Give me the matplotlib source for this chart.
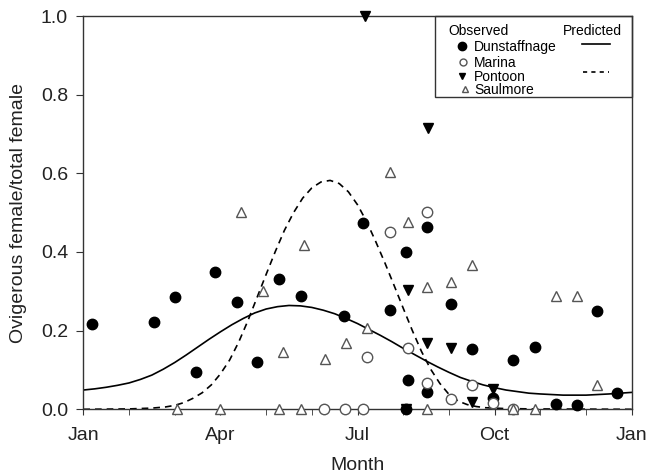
import numpy as np
import matplotlib.pyplot as plt
from matplotlib.patches import Rectangle

plt.rcParams['font.family'] = ['Liberation Sans', 'DejaVu Sans']

# x = month of year (0 = 1 Jan, 12 = next 1 Jan), y = ovigerous/total female
dun_month = [0.18, 1.55, 2.0, 2.46, 2.89, 3.36, 3.79, 4.29, 4.76, 5.70, 6.13, 6.70,
             7.06, 7.51, 7.06, 7.11, 7.53, 8.05, 8.51, 8.96, 9.41, 9.88, 10.34,
             10.80, 11.25, 11.68]
dun_prop = [0.216, 0.222, 0.286, 0.095, 0.349, 0.272, 0.119, 0.332, 0.289, 0.238,
            0.474, 0.252, 0.399, 0.463, 0.0, 0.074, 0.045, 0.269, 0.153, 0.028,
            0.125, 0.159, 0.013, 0.010, 0.249, 0.041]

mar_month = [5.27, 5.72, 6.13, 6.20, 6.70, 7.11, 7.51, 7.53, 8.05, 8.51, 8.96, 9.40]
mar_prop = [0.0, 0.0, 0.0, 0.132, 0.450, 0.157, 0.501, 0.066, 0.027, 0.062, 0.015, 0.0]

pon_month = [6.16, 7.54, 7.11, 7.53, 8.04, 8.51, 8.96, 7.06]
pon_prop = [1.0, 0.715, 0.303, 0.169, 0.155, 0.018, 0.051, 0.0]

sau_month = [2.06, 2.99, 3.44, 3.94, 4.28, 4.36, 4.76, 4.83, 5.29, 5.74, 6.20, 6.70,
             7.11, 7.53, 7.53, 8.04, 8.51, 9.40, 9.88, 10.34, 10.80, 11.25]
sau_prop = [0.0, 0.0, 0.502, 0.302, 0.0, 0.146, 0.0, 0.419, 0.128, 0.168, 0.206, 0.604,
            0.475, 0.312, 0.0, 0.323, 0.366, 0.0, 0.0, 0.288, 0.288, 0.061]

# predicted curves
pred_solid_month = [0, 0.25, 0.5, 0.75, 1.0, 1.25, 1.5, 1.75, 2.0, 2.25, 2.5, 2.75,
                    3.0, 3.25, 3.5, 3.75, 4.0, 4.25, 4.5, 4.75, 5.0, 5.25, 5.5, 5.75,
                    6.0, 6.25, 6.5, 6.75, 7.0, 7.25, 7.5, 7.75, 8.0, 8.25, 8.5, 8.75,
                    9.0, 9.25, 9.5, 9.75, 10.0, 10.5, 11.0, 11.5, 12.0]
pred_solid = [0.049, 0.052, 0.056, 0.061, 0.067, 0.076, 0.087, 0.102, 0.119, 0.138,
              0.158, 0.178, 0.197, 0.215, 0.231, 0.245, 0.255, 0.261, 0.264, 0.263,
              0.259, 0.252, 0.243, 0.231, 0.218, 0.203, 0.188, 0.172, 0.155, 0.139,
              0.123, 0.108, 0.094, 0.081, 0.071, 0.062, 0.055, 0.049, 0.045, 0.041,
              0.039, 0.036, 0.036, 0.039, 0.043]

pred_dash_month = [0, 1.0, 1.5, 1.8, 2.0, 2.2, 2.4, 2.6, 2.8, 3.0, 3.2, 3.4, 3.6, 3.8,
                   4.0, 4.2, 4.4, 4.6, 4.8, 5.0, 5.2, 5.4, 5.6, 5.8, 6.0, 6.2, 6.4,
                   6.6, 6.8, 7.0, 7.2, 7.4, 7.6, 7.8, 8.0, 8.2, 8.4, 8.6, 8.8, 9.2,
                   9.8, 12.0]
pred_dash = [0.0, 0.001, 0.003, 0.006, 0.010, 0.017, 0.028, 0.042, 0.062, 0.090, 0.125,
             0.171, 0.225, 0.284, 0.343, 0.401, 0.455, 0.500, 0.537, 0.563, 0.578,
             0.582, 0.574, 0.553, 0.520, 0.477, 0.426, 0.372, 0.315, 0.257, 0.200,
             0.147, 0.102, 0.066, 0.038, 0.021, 0.012, 0.007, 0.004, 0.002, 0.001, 0.0]

month_ticks = [0, 3, 6, 9, 12]
month_labels = ['Jan', 'Apr', 'Jul', 'Oct', 'Jan']

fig = plt.figure(figsize=(6.47, 4.74), dpi=100)
ax = fig.add_axes([0.1288, 0.1365, 0.8476, 0.8297])

ax.plot(pred_solid_month, pred_solid, color='black', lw=1.2, zorder=2)
ax.plot(pred_dash_month, pred_dash, color='black', lw=1.2, ls=(0, (4, 3)), zorder=2)

ms = 7.5
gray = '#555555'
ax.plot(dun_month, dun_prop, 'o', ms=ms, color='black', ls='none', clip_on=False, zorder=3)
ax.plot(mar_month, mar_prop, 'o', ms=ms, mfc='white', mec=gray, mew=1.0, ls='none',
        clip_on=False, zorder=3)
ax.plot(pon_month, pon_prop, 'v', ms=ms, color='black', ls='none', clip_on=False, zorder=3)
ax.plot(sau_month, sau_prop, '^', ms=ms, mfc='white', mec=gray, mew=1.0, ls='none',
        clip_on=False, zorder=3)

ax.set_xlim(0, 12)
ax.set_ylim(0, 1.0)
ax.set_xticks(month_ticks)
ax.set_xticklabels(month_labels)
ax.set_xticks(np.arange(0, 13), minor=True)
ax.set_yticks([0, 0.2, 0.4, 0.6, 0.8, 1.0])
ax.set_yticklabels(['0.0', '0.2', '0.4', '0.6', '0.8', '1.0'])

for s in ax.spines.values():
    s.set_color('#333333')
    s.set_linewidth(1.0)
ax.tick_params(axis='both', which='both', direction='out', color='#333333',
               labelsize=14, labelcolor='#222222')
ax.tick_params(axis='x', which='both', length=4, pad=9)
ax.tick_params(axis='y', length=5, pad=6)

ax.set_xlabel('Month', fontsize=14, color='#222222', labelpad=9)
ax.set_ylabel('Ovigerous female/total female', fontsize=14, color='#222222', labelpad=10)

# legend box
ax.add_patch(Rectangle((0.641, 0.794), 0.359, 0.206, transform=ax.transAxes,
                       fill=False, edgecolor='#333333', lw=1.0, zorder=5, clip_on=False))
ax.text(0.665, 0.962, 'Observed', transform=ax.transAxes, fontsize=10, va='center')
ax.text(0.982, 0.962, 'Predicted', transform=ax.transAxes, fontsize=10, va='center', ha='right')
rows_y = [0.925, 0.884, 0.848, 0.815]
names = ['Dunstaffnage', 'Marina', 'Pontoon', 'Saulmore']
styles = [dict(marker='o', color='black'),
          dict(marker='o', mfc='white', mec=gray, mew=1.0),
          dict(marker='v', color='black'),
          dict(marker='^', mfc='white', mec=gray, mew=1.0)]
sizes = [6, 5, 5, 5]
mx = [0.690, 0.693, 0.690, 0.696]
for y, n, st, sz, x in zip(rows_y, names, styles, sizes, mx):
    ax.plot([x], [y], transform=ax.transAxes, ms=sz, ls='none', clip_on=False, **st)
    ax.text(0.713, y - 0.004, n, transform=ax.transAxes, fontsize=10, va='center')
ax.plot([0.909, 0.961], [0.929, 0.929], transform=ax.transAxes, color='black', lw=1.2)
ax.plot([0.911, 0.958], [0.857, 0.857], transform=ax.transAxes, color='black', lw=1.2,
        ls=(0, (2.5, 2.5)))

fig.savefig('out.png', dpi=100)
